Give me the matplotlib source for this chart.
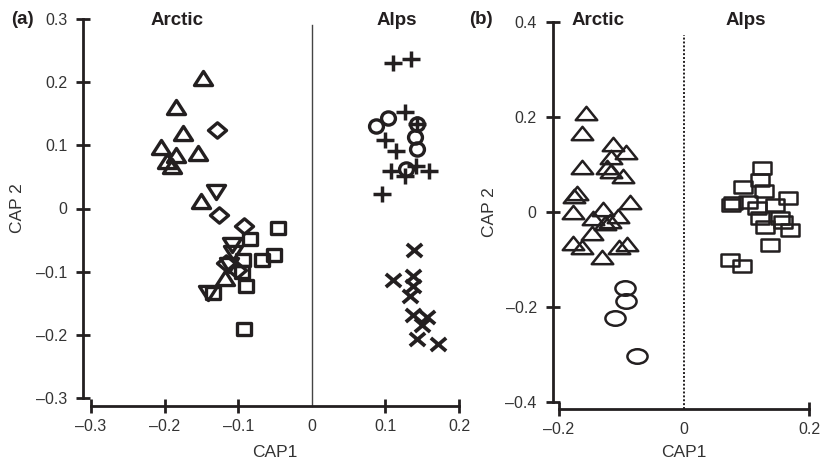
import matplotlib
matplotlib.use("Agg")
import matplotlib.pyplot as plt
import matplotlib.transforms as mt
from matplotlib.path import Path
from matplotlib.markers import MarkerStyle

plt.rcParams['font.family'] = ['Liberation Sans', 'DejaVu Sans']

# ---------------- data: panel (a) ----------------
a_tri_up_x = [-0.148, -0.185, -0.175, -0.205, -0.185, -0.154, -0.197, -0.190, -0.150, -0.118]
a_tri_up_y = [0.207, 0.161, 0.119, 0.098, 0.085, 0.088, 0.075, 0.068, 0.012, -0.110]
a_tri_dn_x = [-0.130, -0.109, -0.107, -0.141, -0.112]
a_tri_dn_y = [0.026, -0.057, -0.070, -0.133, -0.090]
a_dia_x = [-0.129, -0.126, -0.092, -0.116, -0.102]
a_dia_y = [0.125, -0.010, -0.028, -0.086, -0.097]
a_sq_x = [-0.046, -0.084, -0.068, -0.052, -0.093, -0.089, -0.134, -0.092, -0.095]
a_sq_y = [-0.031, -0.049, -0.081, -0.073, -0.081, -0.122, -0.134, -0.191, -0.100]
a_circ_x = [0.087, 0.104, 0.143, 0.140, 0.143, 0.128]
a_circ_y = [0.131, 0.144, 0.133, 0.113, 0.094, 0.062]
a_plus_x = [0.110, 0.135, 0.127, 0.100, 0.114, 0.108, 0.126, 0.141, 0.159, 0.096, 0.143]
a_plus_y = [0.231, 0.236, 0.152, 0.109, 0.091, 0.059, 0.051, 0.067, 0.059, 0.023, 0.133]
a_x_x = [0.139, 0.110, 0.137, 0.137, 0.133, 0.137, 0.157, 0.150, 0.143, 0.171]
a_x_y = [-0.065, -0.113, -0.107, -0.123, -0.138, -0.168, -0.171, -0.185, -0.206, -0.215]

a_xticks = [-0.3, -0.2, -0.1, 0.0, 0.1, 0.2]
a_xticklabels = ['\u20130.3', '\u20130.2', '\u20130.1', '0', '0.1', '0.2']
a_yticks = [-0.3, -0.2, -0.1, 0.0, 0.1, 0.2, 0.3]
a_yticklabels = ['\u20130.3', '\u20130.2', '\u20130.1', '0', '0.1', '0.2', '0.3']

# ---------------- data: panel (b) ----------------
b_tri_x = [-0.157, -0.163, -0.113, -0.093, -0.117, -0.163, -0.124, -0.117, -0.098, -0.172,
           -0.176, -0.086, -0.177, -0.130, -0.105, -0.146, -0.118, -0.126, -0.148, -0.177,
           -0.164, -0.092, -0.104, -0.132]
b_tri_y = [0.209, 0.167, 0.143, 0.126, 0.116, 0.095, 0.095, 0.087, 0.076, 0.039,
           0.034, 0.022, 0.001, 0.006, -0.008, -0.013, -0.020, -0.024, -0.045, -0.066,
           -0.073, -0.067, -0.073, -0.094]
b_circ_x = [-0.094, -0.093, -0.110, -0.076]
b_circ_y = [-0.159, -0.187, -0.224, -0.303]
b_sq_x = [0.124, 0.122, 0.094, 0.128, 0.079, 0.075, 0.103, 0.116, 0.146, 0.167,
          0.122, 0.154, 0.159, 0.130, 0.170, 0.138, 0.074, 0.092]
b_sq_y = [0.092, 0.067, 0.052, 0.045, 0.018, 0.015, 0.022, 0.008, 0.015, 0.029,
          -0.013, -0.013, -0.022, -0.031, -0.038, -0.069, -0.101, -0.114]

b_xticks = [-0.2, 0.0, 0.2]
b_xticklabels = ['\u20130.2', '0', '0.2']
b_yticks = [-0.4, -0.2, 0.0, 0.2, 0.4]
b_yticklabels = ['\u20130.4', '\u20130.2', '0', '0.2', '0.4']

INK = '#231f20'

# ---------------- marker shapes ----------------
def closed(verts):
    v = list(verts) + [verts[0]]
    codes = [Path.MOVETO] + [Path.LINETO] * (len(verts) - 1) + [Path.CLOSEPOLY]
    return MarkerStyle(Path(v, codes), joinstyle='miter')

def tri_up(r):
    return closed([(-1, -r), (1, -r), (0, r)])

def tri_dn(r):
    return closed([(-1, r), (1, r), (0, -r)])

def rect(r):
    return closed([(-1, -r), (1, -r), (1, r), (-1, r)])

def diamond(r):
    return closed([(0, r), (1, 0), (0, -r), (-1, 0)])

def ellipse(r):
    p = Path.unit_circle().transformed(mt.Affine2D().scale(1, r))
    return MarkerStyle(p)

def plus(r):
    return MarkerStyle(Path([(-1, 0), (1, 0), (0, -r), (0, r)],
                            [Path.MOVETO, Path.LINETO, Path.MOVETO, Path.LINETO]),
                       capstyle='butt')

def cross(r):
    return MarkerStyle(Path([(-1, -r), (1, r), (-1, r), (1, -r)],
                            [Path.MOVETO, Path.LINETO, Path.MOVETO, Path.LINETO]),
                       capstyle='butt')

def scatter(ax, x, y, marker, ms, mew):
    ax.plot(x, y, linestyle='none', marker=marker, markersize=ms,
            markerfacecolor='none', markeredgecolor=INK, markeredgewidth=mew,
            clip_on=False)

fig = plt.figure(figsize=(8.21, 4.67), dpi=100)
W, H = 821, 467

def style_axes(ax, xlim, ylim, xticks, xlabels, yticks, ylabels, off_l, off_b, ypad):
    ax.set_xlim(*xlim)
    ax.set_ylim(*ylim)
    for s in ['top', 'right']:
        ax.spines[s].set_visible(False)
    ax.spines['left'].set_position(('outward', off_l))
    ax.spines['bottom'].set_position(('outward', off_b))
    ax.spines['left'].set_bounds(ylim[0], ylim[1])
    ax.spines['bottom'].set_bounds(xlim[0], xlim[1])
    for s in ['left', 'bottom']:
        ax.spines[s].set_linewidth(2.0)
        ax.spines[s].set_color(INK)
    ax.set_xticks(xticks)
    ax.set_xticklabels(xlabels)
    ax.set_yticks(yticks)
    ax.set_yticklabels(ylabels)
    ax.tick_params(axis='both', direction='inout', length=10.5, width=2.0,
                   color=INK, labelsize=11.5, labelcolor='#333333')
    ax.tick_params(axis='x', pad=4)
    ax.tick_params(axis='y', pad=ypad)
    # no tick mark at x = 0
    for t, v in zip(ax.xaxis.get_major_ticks(), xticks):
        if v == 0:
            t.tick1line.set_visible(False)
    ax.patch.set_visible(False)

# ---------------- panel (a) ----------------
axa = fig.add_axes([91 / W, 1 - 398 / H, 368 / W, 379 / H])
style_axes(axa, (-0.3, 0.2), (-0.3, 0.3), a_xticks, a_xticklabels,
           a_yticks, a_yticklabels, 5.8, 5.8, 6)
axa.axvline(0, ymin=-8 / 379, ymax=0.985, color='#444444', lw=1.0, clip_on=False)

scatter(axa, a_tri_up_x, a_tri_up_y, tri_up(0.78), 13, 2.4)
scatter(axa, a_tri_dn_x, a_tri_dn_y, tri_dn(0.78), 13, 2.4)
scatter(axa, a_dia_x, a_dia_y, diamond(0.85), 13, 2.4)
scatter(axa, a_sq_x, a_sq_y, rect(0.88), 10.5, 2.4)
scatter(axa, a_circ_x, a_circ_y, ellipse(0.95), 10, 2.4)
scatter(axa, a_plus_x, a_plus_y, plus(0.85), 13, 2.5)
scatter(axa, a_x_x, a_x_y, cross(0.85), 11, 2.7)

axa.text(-0.183, 0.298, 'Arctic', ha='center', va='center', fontsize=13.5,
         fontweight='bold', color=INK)
axa.text(0.115, 0.298, 'Alps', ha='center', va='center', fontsize=13.5,
         fontweight='bold', color=INK)
axa.set_xlabel('CAP1', fontsize=12.5, color='#333333')
axa.set_ylabel('CAP 2', fontsize=12.5, color='#333333')
axa.xaxis.set_label_coords(0.5, -0.125)
axa.yaxis.set_label_coords(-0.18, 0.5)
fig.text(22 / W, 1 - 19 / H, '(a)', ha='center', va='center', fontsize=13.5,
         fontweight='bold', color=INK)

# ---------------- panel (b) ----------------
axb = fig.add_axes([559 / W, 1 - 402 / H, 250 / W, 380 / H])
style_axes(axb, (-0.2, 0.2), (-0.4, 0.4), b_xticks, b_xticklabels,
           b_yticks, b_yticklabels, 4.3, 5.0, 6.5)
axb.axvline(0, ymin=-7 / 380, ymax=0.965, color=INK, lw=1.4, linestyle=(0, (1, 1)),
            clip_on=False)

scatter(axb, b_tri_x, b_tri_y, tri_up(0.62), 15.5, 1.8)
scatter(axb, b_circ_x, b_circ_y, ellipse(0.72), 14.5, 1.8)
scatter(axb, b_sq_x, b_sq_y, rect(0.66), 12.5, 1.8)

axb.text(-0.138, 0.404, 'Arctic', ha='center', va='center', fontsize=13.5,
         fontweight='bold', color=INK)
axb.text(0.099, 0.404, 'Alps', ha='center', va='center', fontsize=13.5,
         fontweight='bold', color=INK)
axb.set_xlabel('CAP1', fontsize=12.5, color='#333333')
axb.set_ylabel('CAP 2', fontsize=12.5, color='#333333')
axb.xaxis.set_label_coords(0.5, -0.113)
axb.yaxis.set_label_coords(-0.25, 0.5)
fig.text(481 / W, 1 - 19 / H, '(b)', ha='center', va='center', fontsize=13.5,
         fontweight='bold', color=INK)

fig.savefig('out.png', dpi=100)
